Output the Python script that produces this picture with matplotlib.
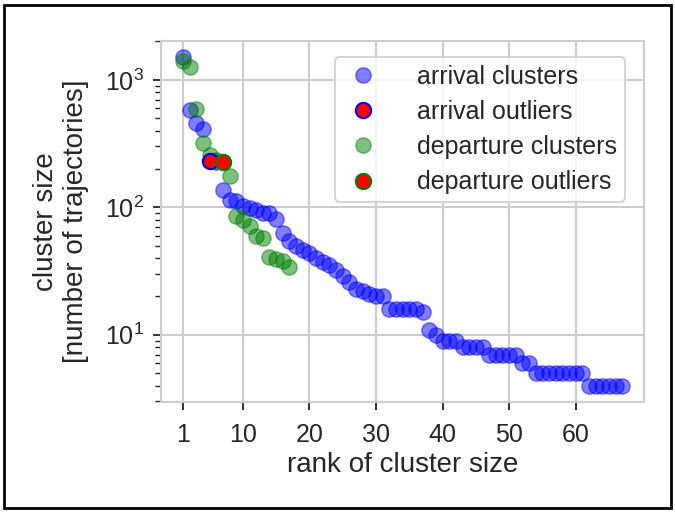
import numpy as np
import matplotlib
matplotlib.use("Agg")
import matplotlib.pyplot as plt
from matplotlib.patches import Rectangle

# cluster sizes sorted by rank
arrival_sizes = [1500, 580, 460, 415, 232, 225, 136, 115, 113, 102,
                 98, 95, 91, 90, 81, 63, 54, 50, 46, 44,
                 40, 37, 35, 32, 29, 26, 23, 22, 21, 20,
                 20, 16, 16, 16, 16, 16, 15, 11, 10, 9,
                 9, 9, 8, 8, 8, 8, 7, 7, 7, 7,
                 7, 6, 6, 5, 5, 5, 5, 5, 5, 5,
                 5, 4, 4, 4, 4, 4, 4]
departure_sizes = [1400, 1250, 590, 320, 255, 235, 225, 175, 85, 79,
                   71, 60, 57, 41, 39, 38, 34]
arrival_outlier_rank = [5]
arrival_outlier_size = [232]
departure_outlier_rank = [7]
departure_outlier_size = [225]
xtick_values = [1, 10, 20, 30, 40, 50, 60]

arrival_rank = np.arange(1, len(arrival_sizes) + 1)
departure_rank = np.arange(1, len(departure_sizes) + 1)

plt.rcParams['font.family'] = ['Liberation Sans', 'DejaVu Sans']
plt.rcParams['mathtext.fontset'] = 'custom'
plt.rcParams['mathtext.rm'] = 'Liberation Sans'
plt.rcParams['mathtext.it'] = 'Liberation Sans:italic'
text_col = '#262626'
grid_col = '#cccccc'
fs = 18
fs_lab = 20

fig = plt.figure(figsize=(6.75, 5.12), dpi=100)
ax = fig.add_axes([0.2385, 0.215, 0.716, 0.705])

ms = 11
ax.plot(arrival_rank, arrival_sizes, 'o', color='blue', alpha=0.5, ms=ms,
        mec='blue', label='arrival clusters', zorder=3)
ax.plot(arrival_outlier_rank, arrival_outlier_size, 'o', mfc='red', mec='blue',
        ms=ms, mew=1.5, label='arrival outliers', zorder=4)
ax.plot(departure_rank, departure_sizes, 'o', color='green', alpha=0.5, ms=ms,
        mec='green', label='departure clusters', zorder=3)
ax.plot(departure_outlier_rank, departure_outlier_size, 'o', mfc='red', mec='green',
        ms=ms, mew=1.5, label='departure outliers', zorder=4)

ax.set_yscale('log')
ax.set_xticks(xtick_values)
ax.grid(True, which='major', color=grid_col, lw=1.5, zorder=0)
ax.set_axisbelow(True)
for s in ax.spines.values():
    s.set_color(grid_col)
    s.set_linewidth(1.5)

ax.tick_params(axis='both', which='major', direction='out', length=6, width=1.3,
               color='#222222', labelsize=fs, labelcolor=text_col, pad=6)
ax.tick_params(axis='x', which='major', pad=9)
ax.tick_params(axis='y', which='minor', direction='out', length=4, width=1.0,
               color='#222222')
ax.tick_params(axis='x', which='minor', bottom=False)

ax.set_xlabel('rank of cluster size', fontsize=fs_lab, color=text_col, labelpad=4)
ax.set_ylabel('cluster size\n[number of trajectories]', fontsize=fs_lab,
              color=text_col, labelpad=12)

leg = ax.legend(loc='upper right', fontsize=fs, frameon=True, fancybox=True,
                handletextpad=1.3, borderpad=0.3, labelspacing=0.45,
                handlelength=1.7, bbox_to_anchor=(0.985, 0.99))
leg.get_frame().set_edgecolor(grid_col)
leg.get_frame().set_linewidth(1.5)
for t in leg.get_texts():
    t.set_color(text_col)

fig.patches.append(Rectangle((0.006, 0.008), 0.988, 0.982, transform=fig.transFigure,
                             fill=False, ec='black', lw=2))

fig.savefig('out.png', dpi=100)
